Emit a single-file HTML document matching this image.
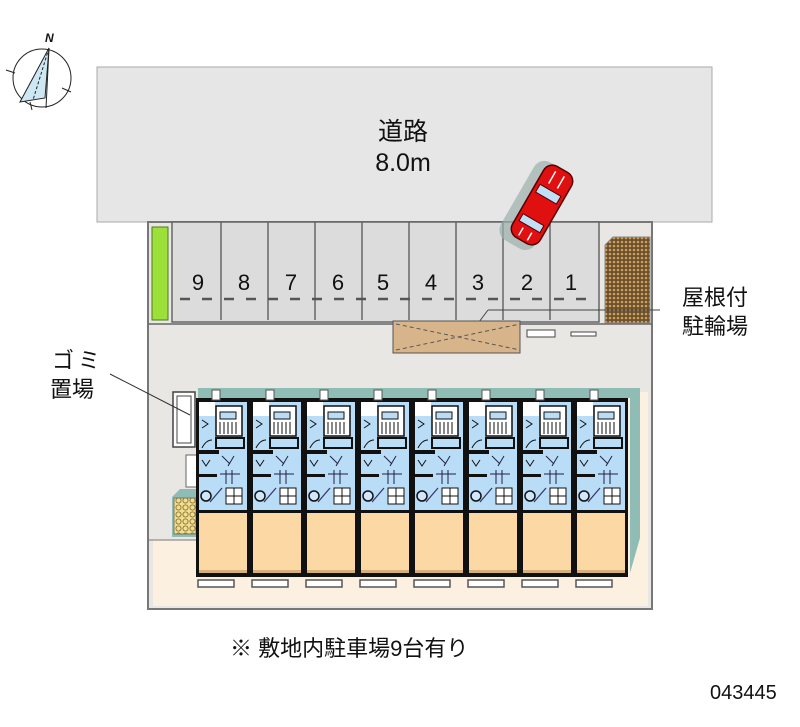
<!DOCTYPE html>
<html><head><meta charset="utf-8"><style>
html,body{margin:0;padding:0;background:#fff;width:800px;height:727px;overflow:hidden}
svg{display:block}
text{font-family:"Liberation Sans","Noto Sans CJK JP",sans-serif;fill:#111}
</style></head><body>
<svg width="800" height="727" viewBox="0 0 800 727" xmlns="http://www.w3.org/2000/svg">
<defs>
<pattern id="dots" width="4" height="4" patternUnits="userSpaceOnUse"><rect width="4" height="4" fill="#6b4e2a"/><circle cx="2" cy="2" r="1.3" fill="#c9a060"/></pattern>
<pattern id="gomi" width="7" height="7" patternUnits="userSpaceOnUse"><rect width="7" height="7" fill="#f3dc8e"/><circle cx="3.5" cy="3.5" r="2.6" fill="none" stroke="#7a6a30" stroke-width="0.8"/></pattern>
<g id="unit">
<rect x="0" y="8" width="54" height="179" fill="#111"/>
<rect x="3" y="12" width="48" height="108" fill="#b9dcf7"/>
<rect x="3" y="12" width="16" height="14" fill="#fff"/>
<rect x="20" y="16" width="26" height="30" fill="#fff" stroke="#111" stroke-width="1.5"/>
<rect x="24" y="22" width="16" height="7" fill="#b9dcf7" stroke="#111"/>
<path d="M24 32v12M28 32v12M32 32v12M36 32v12M40 32v12" stroke="#111" stroke-width="1"/>
<rect x="20" y="48" width="28" height="10" fill="#b9dcf7" stroke="#111" stroke-width="2"/>
<path d="M6 58q4-8 10-8M6 30l6 4-6 4" stroke="#111" fill="none"/>
<rect x="3" y="60" width="20" height="4" fill="#111"/>
<path d="M26 66l8 8M38 66l-6 10M30 80v14M36 80v14M24 84h20" stroke="#224" fill="none"/>
<path d="M6 70l4 6 4-6" stroke="#111" fill="none"/>
<rect x="3" y="84" width="18" height="3" fill="#111"/>
<circle cx="10" cy="106" r="5" fill="#cfe6fb" stroke="#111" stroke-width="1.5"/>
<path d="M14 112l12-14" stroke="#336" stroke-width="1.2"/>
<rect x="30" y="98" width="16" height="16" fill="#fff" stroke="#111"/>
<path d="M30 106h16M38 98v16" stroke="#111"/>
<rect x="3" y="120" width="48" height="3" fill="#111"/>
<rect x="3" y="123" width="48" height="60" fill="#fcd8a5"/>
<rect x="3" y="180" width="48" height="3" fill="#d4b07a"/>
<rect x="2" y="190" width="36" height="7" fill="#fff" stroke="#555" stroke-width="1.5"/>
<rect x="16" y="0" width="8" height="10" fill="#fff" stroke="#555"/>
</g>
</defs>
<!-- compass -->
<circle cx="42" cy="78" r="29" fill="none" stroke="#222" stroke-width="1"/>
<polygon points="49,48 20,102 45,98" fill="#cde8f3" stroke="#222"/>
<line x1="49" y1="48" x2="46" y2="108" stroke="#222"/>
<line x1="49" y1="48" x2="33" y2="100" stroke="#222" stroke-dasharray="3,2"/>
<text x="45" y="42" font-size="12" font-style="italic" font-weight="bold">N</text>
<path d="M6 70l9 3M62 88l9 4M30 102l2 8" stroke="#222"/>
<!-- road -->
<rect x="97" y="67" width="615" height="155" fill="#e6e6e6" stroke="#aaa"/>
<text x="403" y="140" font-size="25" text-anchor="middle">道路</text>
<text x="403" y="171" font-size="25" text-anchor="middle" font-family="Liberation Mono,monospace">8.0m</text>
<!-- lot -->
<rect x="148" y="222" width="504" height="387" fill="#e9e7e4" stroke="#777" stroke-width="2"/>
<rect x="153" y="540" width="495" height="66" fill="#fcf0e0"/>
<rect x="628" y="392" width="20" height="150" fill="#fcf0e0"/>
<line x1="148" y1="540" x2="196" y2="540" stroke="#777"/>
<!-- parking -->
<rect x="172" y="222" width="427" height="100" fill="#dcdcdc" stroke="#666" stroke-width="1.5"/>
<line x1="148" y1="324" x2="652" y2="324" stroke="#666" stroke-width="1.5"/>
<g stroke="#666" stroke-width="1.5">
<line x1="221" y1="222" x2="221" y2="320"/><line x1="268" y1="222" x2="268" y2="320"/><line x1="315" y1="222" x2="315" y2="320"/><line x1="362" y1="222" x2="362" y2="320"/><line x1="409" y1="222" x2="409" y2="320"/><line x1="456" y1="222" x2="456" y2="320"/><line x1="503" y1="222" x2="503" y2="320"/><line x1="550" y1="222" x2="550" y2="320"/>
</g>
<line x1="180" y1="299" x2="595" y2="299" stroke="#555" stroke-width="2.5" stroke-dasharray="10,12"/>
<g font-size="22" text-anchor="middle">
<text x="198" y="290">9</text><text x="244" y="290">8</text><text x="291" y="290">7</text><text x="338" y="290">6</text><text x="383" y="290">5</text><text x="431" y="290">4</text><text x="478" y="290">3</text><text x="527" y="290">2</text><text x="571" y="290">1</text>
</g>
<rect x="152" y="227" width="16" height="93" fill="#9de039" stroke="#4c7a1c"/>
<!-- bicycle -->
<path d="M605 245l8-8h37v86h-45z" fill="url(#dots)" stroke="#888"/>
<line x1="488" y1="310" x2="660" y2="310" stroke="#444"/>
<line x1="488" y1="310" x2="470" y2="334" stroke="#444"/>
<rect x="393" y="321" width="127" height="32" fill="#d8b48a" stroke="#555"/>
<path d="M396 324L520 350M396 350L520 324" stroke="#555" stroke-dasharray="4,3" fill="none"/>
<rect x="527" y="330" width="28" height="7" fill="#fff" stroke="#444"/>
<rect x="571" y="332" width="25" height="4" fill="#fff" stroke="#444"/>
<!-- car -->
<g transform="translate(542,205) rotate(30)">
<rect x="-20" y="-45" width="40" height="90" rx="12" fill="#9cb0ad" opacity="0.7" transform="translate(-6,4)"/>
<rect x="-16" y="-41" width="32" height="82" rx="10" fill="#e01010" stroke="#500" stroke-width="1.5"/>
<rect x="-12" y="-17" width="24" height="9" fill="#bfe0f7" stroke="#500"/>
<rect x="-12" y="17" width="24" height="8" fill="#bfe0f7" stroke="#500"/>
<path d="M-5 -36v14M5 -36v14M-5 29v9M5 29v9" stroke="#fff" stroke-width="1.5"/>
</g>
<!-- gomi -->
<rect x="173" y="392" width="22" height="55" fill="#fff" stroke="#444" stroke-width="1.5"/>
<rect x="177" y="396" width="14" height="47" fill="#fff" stroke="#444"/>
<line x1="110" y1="374" x2="190" y2="415" stroke="#333"/>
<rect x="186" y="455" width="12" height="32" fill="#fff" stroke="#666"/>
<path d="M172 497l8-8h18v48h-26z" fill="#8fbcb4"/>
<rect x="174" y="498" width="22" height="36" fill="url(#gomi)" stroke="#776"/>
<!-- building -->
<path d="M198 388h442v10h-442z" fill="#8fbcb4"/>
<path d="M630 398h10v140l-10 35z" fill="#8fbcb4"/>
<use href="#unit" x="196" y="390"/>
<use href="#unit" x="250" y="390"/>
<use href="#unit" x="304" y="390"/>
<use href="#unit" x="358" y="390"/>
<use href="#unit" x="412" y="390"/>
<use href="#unit" x="466" y="390"/>
<use href="#unit" x="520" y="390"/>
<use href="#unit" x="574" y="390"/>
<!-- labels -->
<text x="52" y="368" font-size="22" letter-spacing="4">ゴミ</text>
<text x="50" y="397" font-size="22">置場</text>
<text x="682" y="305" font-size="22">屋根付</text>
<text x="682" y="334" font-size="22">駐輪場</text>
<text x="230" y="656" font-size="22">※ 敷地内駐車場9台有り</text>
<text x="710" y="699" font-size="20">043445</text>
</svg>
</body></html>
